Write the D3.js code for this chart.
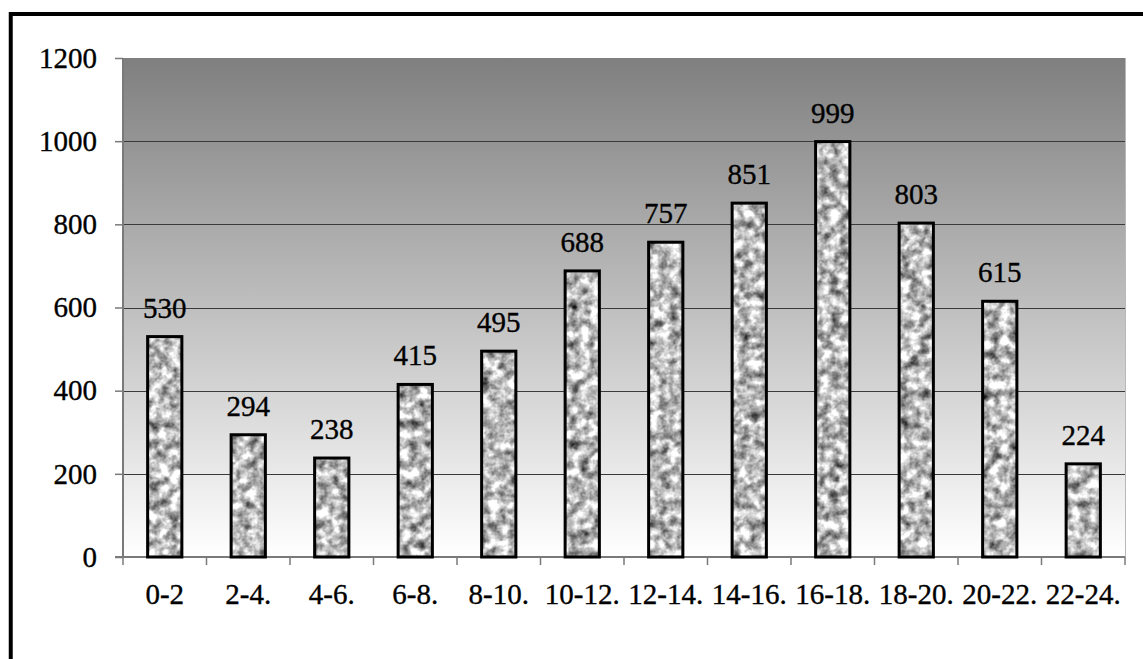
<!DOCTYPE html>
<html>
<head>
<meta charset="utf-8">
<script src="https://cdn.jsdelivr.net/npm/d3@7"></script>
<style>
  html, body { margin: 0; padding: 0; background: #fff; }
  svg { display: block; }
  text { font-family: "Liberation Serif", "Times New Roman", serif; fill: #000; stroke: #000; stroke-width: 0.35px; }
</style>
</head>
<body>
<svg id="chart" width="1143" height="659"></svg>
<script>
// Hourly counts by two-hour interval
const categories = ["0-2", "2-4.", "4-6.", "6-8.", "8-10.", "10-12.", "12-14.", "14-16.", "16-18.", "18-20.", "20-22.", "22-24."];
const values = [530, 294, 238, 415, 495, 688, 757, 851, 999, 803, 615, 224];
const yTicks = [0, 200, 400, 600, 800, 1000, 1200];

const W = 1143, H = 659;
const plot = { left: 123, right: 1125, top: 58, bottom: 557 };

const svg = d3.select("#chart");
const defs = svg.append("defs");

// Plot background: dark gray at top fading to white at the baseline
const grad = defs.append("linearGradient")
  .attr("id", "bgGrad").attr("x1", 0).attr("y1", 0).attr("x2", 0).attr("y2", 1);
grad.append("stop").attr("offset", "0%").attr("stop-color", "#7f7f7f");
grad.append("stop").attr("offset", "100%").attr("stop-color", "#ffffff");

// Granite texture for the bars
const filt = defs.append("filter").attr("id", "granite")
  .attr("filterUnits", "userSpaceOnUse")
  .attr("color-interpolation-filters", "sRGB")
  .attr("x", 0).attr("y", 0).attr("width", W).attr("height", H);
filt.append("feTurbulence")
  .attr("type", "fractalNoise").attr("baseFrequency", 0.1)
  .attr("numOctaves", 3).attr("seed", 11).attr("result", "noise");
filt.append("feColorMatrix").attr("in", "noise").attr("type", "matrix")
  .attr("values", "0.95 0.95 0 0 -0.22  0.95 0.95 0 0 -0.22  0.95 0.95 0 0 -0.22  0 0 0 0 1")
  .attr("result", "gray");
filt.append("feGaussianBlur").attr("in", "gray").attr("stdDeviation", 0.7).attr("result", "soft");
filt.append("feComposite").attr("in", "soft").attr("in2", "SourceGraphic")
  .attr("operator", "in");

const x = d3.scaleBand().domain(categories).range([plot.left, plot.right]).paddingInner(0.59).paddingOuter(0.295);
const y = d3.scaleLinear().domain([0, 1200]).range([plot.bottom, plot.top]);

// Background
svg.append("rect")
  .attr("x", plot.left).attr("y", plot.top)
  .attr("width", plot.right - plot.left).attr("height", plot.bottom - plot.top)
  .attr("fill", "url(#bgGrad)");

// Right edge of plot area
svg.append("line")
  .attr("x1", plot.right + 0.5).attr("x2", plot.right + 0.5)
  .attr("y1", plot.top).attr("y2", plot.bottom)
  .attr("stroke", "#b8b8b8").attr("stroke-width", 1);

// Gridlines
svg.append("g").selectAll("line").data(yTicks.filter(d => d > 0 && d < 1200)).join("line")
  .attr("x1", plot.left).attr("x2", plot.right)
  .attr("y1", d => Math.round(y(d)) + 0.5).attr("y2", d => Math.round(y(d)) + 0.5)
  .attr("stroke", "#3a3a3a").attr("stroke-width", 1);

// Y axis
const yAxis = svg.append("g").attr("transform", `translate(${plot.left},0)`)
  .call(d3.axisLeft(y).tickValues(yTicks).tickSize(8).tickPadding(18).tickFormat(d3.format("d")));
yAxis.attr("font-family", null);
yAxis.select(".domain").attr("stroke", "#7a7a7a").attr("stroke-width", 2)
  .attr("d", `M0,${plot.top}V${plot.bottom}`);
yAxis.selectAll(".tick line").attr("stroke", "#7a7a7a").attr("stroke-width", 1.5);
yAxis.selectAll(".tick text").attr("font-size", 29).attr("fill", "#000");

// X axis with ticks at the category boundaries
const xAxis = svg.append("g").attr("transform", `translate(0,${plot.bottom})`);
xAxis.append("line").attr("x1", plot.left - 8).attr("x2", plot.right)
  .attr("y1", 0).attr("y2", 0).attr("stroke", "#7a7a7a").attr("stroke-width", 2);
const step = x.step();
const bounds = d3.range(categories.length + 1).map(i => plot.left + i * step);
xAxis.selectAll("line.tk").data(bounds).join("line").attr("class", "tk")
  .attr("x1", d => d).attr("x2", d => d).attr("y1", 0).attr("y2", 8)
  .attr("stroke", "#7a7a7a").attr("stroke-width", 1.5);
xAxis.selectAll("text").data(categories).join("text")
  .attr("x", d => x(d) + x.bandwidth() / 2).attr("y", 47)
  .attr("text-anchor", "middle").attr("font-size", 29).text(d => d);

// Bars: textured fill and black outline
const bars = svg.append("g");
bars.selectAll("rect.fill").data(values).join("rect").attr("class", "fill")
  .attr("x", (d, i) => x(categories[i])).attr("y", d => y(d))
  .attr("width", x.bandwidth()).attr("height", d => y(0) - y(d))
  .attr("fill", "#fff").attr("filter", "url(#granite)");
bars.selectAll("rect.edge").data(values).join("rect").attr("class", "edge")
  .attr("x", (d, i) => x(categories[i])).attr("y", d => y(d))
  .attr("width", x.bandwidth()).attr("height", d => y(0) - y(d))
  .attr("fill", "none").attr("stroke", "#000").attr("stroke-width", 3);

// Value labels
svg.append("g").selectAll("text").data(values).join("text")
  .attr("x", (d, i) => x(categories[i]) + x.bandwidth() / 2)
  .attr("y", d => y(d) - 19)
  .attr("text-anchor", "middle").attr("font-size", 29).text(d => d);

// Frame: heavy rule on the top and left
svg.append("path")
  .attr("d", `M10.75,${H}V14H${W}`)
  .attr("fill", "none").attr("stroke", "#000").attr("stroke-width", 4);
</script>
</body>
</html>
